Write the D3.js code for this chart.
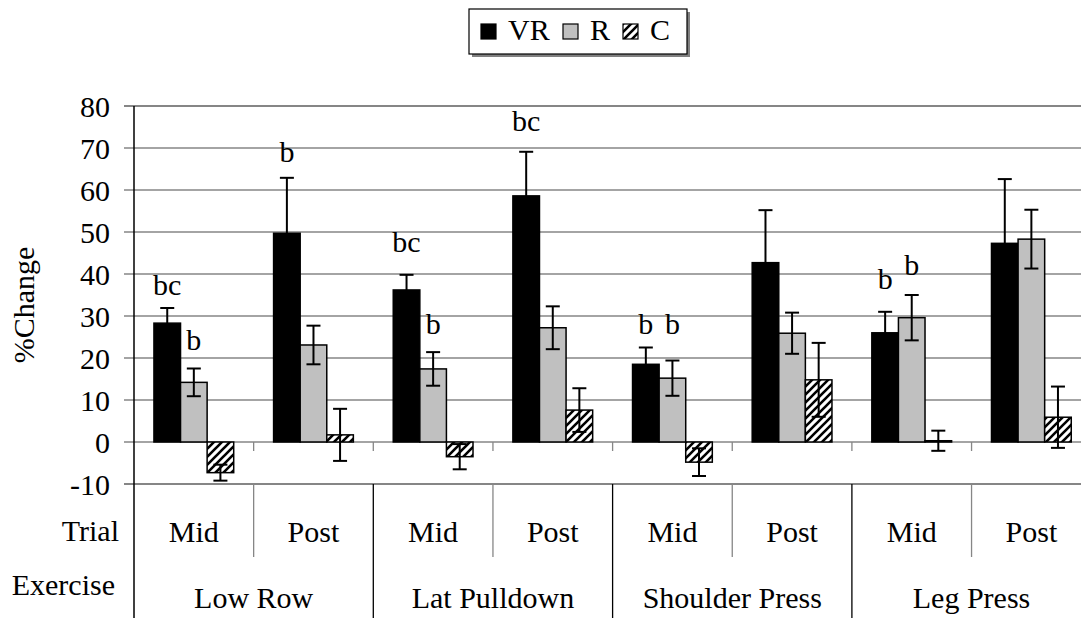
<!DOCTYPE html>
<html>
<head>
<meta charset="utf-8">
<script src="https://cdn.jsdelivr.net/npm/d3@7"></script>
<style>
  body { margin: 0; background: #fff; }
  svg text { font-family: "Liberation Serif", "DejaVu Serif", serif; fill: #000; }
</style>
</head>
<body>
<div class="svg"></div>
<script>
// chart data
var exercises = ['Low Row', 'Lat Pulldown', 'Shoulder Press', 'Leg Press'];
var trials = ['Mid', 'Post'];
var seriesNames = ['VR', 'R', 'C'];

// one value per exercise/trial pair, in the order Low Row Mid, Low Row Post, ...
var vrMean = [28.3, 49.7, 36.2, 58.6, 18.5, 42.7, 26.0, 47.3];
var vrErr  = [3.6, 13.2, 3.6, 10.5, 4.0, 12.5, 5.0, 15.3];
var rMean  = [14.2, 23.1, 17.4, 27.2, 15.2, 25.9, 29.6, 48.3];
var rErr   = [3.3, 4.6, 4.0, 5.1, 4.2, 4.9, 5.4, 7.0];
var cMean  = [-7.3, 1.7, -3.5, 7.6, -4.8, 14.8, 0.3, 5.9];
var cErr   = [1.9, 6.2, 3.0, 5.2, 3.3, 8.8, 2.4, 7.3];

var yTicks = [-10, 0, 10, 20, 30, 40, 50, 60, 70, 80];

// significance letters: category index, series, text, height (in %Change)
var sigCat    = [0, 0, 1, 2, 2, 3, 4, 4, 6, 6];
var sigSeries = ['VR', 'R', 'VR', 'VR', 'R', 'VR', 'VR', 'R', 'VR', 'R'];
var sigText   = ['bc', 'b', 'b', 'bc', 'b', 'bc', 'b', 'b', 'b', 'b'];
var sigAt     = [35.0, 21.9, 66.7, 45.2, 25.7, 74.0, 25.7, 25.7, 36.4, 39.8];

var W = 1081, H = 618;
var left = 134, top0 = 106, zeroY = 442;

var svg = d3.select('body .svg').append('svg')
  .attr('width', W).attr('height', H)
  .attr('font-family', 'Liberation Serif, serif');

var defs = svg.append('defs');
var pat = defs.append('pattern')
  .attr('id', 'hatch')
  .attr('patternUnits', 'userSpaceOnUse')
  .attr('width', 8).attr('height', 8);
pat.append('rect').attr('width', 8).attr('height', 8).attr('fill', '#fff');
pat.append('path')
  .attr('d', 'M-2,2 l4,-4 M0,8 l8,-8 M6,10 l4,-4')
  .attr('stroke', '#000').attr('stroke-width', 2.6);

// categories: exercise x trial
var cats = [];
exercises.forEach(function(e) {
  trials.forEach(function(t) { cats.push(e + '|' + t); });
});

var groupStep = 119.65;
var x = d3.scaleBand().domain(cats)
  .range([left, left + groupStep * cats.length])
  .paddingInner(0).paddingOuter(0);
var xs = d3.scaleBand().domain(seriesNames)
  .range([0, x.bandwidth()])
  .paddingInner(0).paddingOuter(0.75);

var y = d3.scaleLinear().domain([-10, 80]).range([zeroY + 42, top0]);

// gridlines + y ticks
var grid = svg.append('g');
grid.selectAll('line').data(yTicks).enter().append('line')
  .attr('x1', left - 10).attr('x2', W)
  .attr('y1', function(d) { return y(d); })
  .attr('y2', function(d) { return y(d); })
  .attr('stroke', '#868686')
  .attr('stroke-width', function(d) { return d === 80 || d === -10 ? 2 : 1.3; });

svg.append('g').selectAll('text').data(yTicks).enter().append('text')
  .attr('x', 110)
  .attr('y', function(d) { return y(d) + 11; })
  .attr('text-anchor', 'end')
  .style('font-size', '30px')
  .text(function(d) { return d; });

// small ticks on the zero line at category boundaries
svg.append('g').selectAll('line').data(cats.slice(1)).enter().append('line')
  .attr('x1', function(d) { return x(d); })
  .attr('x2', function(d) { return x(d); })
  .attr('y1', y(0)).attr('y2', y(0) + 9)
  .attr('stroke', '#868686').attr('stroke-width', 1.3);

// bars
var seriesData = [
  {name: 'VR', mean: vrMean, err: vrErr, fill: '#000'},
  {name: 'R', mean: rMean, err: rErr, fill: '#c0c0c0'},
  {name: 'C', mean: cMean, err: cErr, fill: 'url(#hatch)'}
];

var bars = [];
seriesData.forEach(function(s) {
  s.mean.forEach(function(v, i) {
    bars.push({cat: cats[i], s: s.name, v: v, e: s.err[i], fill: s.fill});
  });
});

svg.append('g').selectAll('rect').data(bars).enter().append('rect')
  .attr('x', function(d) { return x(d.cat) + xs(d.s); })
  .attr('width', xs.bandwidth())
  .attr('y', function(d) { return y(Math.max(0, d.v)); })
  .attr('height', function(d) { return Math.abs(y(d.v) - y(0)); })
  .attr('fill', function(d) { return d.fill; })
  .attr('stroke', '#000').attr('stroke-width', 1.5);

// error bars
var eb = svg.append('g').attr('stroke', '#000').attr('stroke-width', 2);
var ebs = eb.selectAll('g').data(bars).enter().append('g');
function cx(d) { return x(d.cat) + xs(d.s) + xs.bandwidth() / 2; }
ebs.append('line')
  .attr('x1', cx).attr('x2', cx)
  .attr('y1', function(d) { return y(d.v + d.e); })
  .attr('y2', function(d) { return y(d.v - d.e); });
ebs.append('line')
  .attr('x1', function(d) { return cx(d) - 7; })
  .attr('x2', function(d) { return cx(d) + 7; })
  .attr('y1', function(d) { return y(d.v + d.e); })
  .attr('y2', function(d) { return y(d.v + d.e); });
ebs.append('line')
  .attr('x1', function(d) { return cx(d) - 7; })
  .attr('x2', function(d) { return cx(d) + 7; })
  .attr('y1', function(d) { return y(d.v - d.e); })
  .attr('y2', function(d) { return y(d.v - d.e); });

// significance letters
svg.append('g').selectAll('text').data(sigText).enter().append('text')
  .attr('x', function(d, i) { return x(cats[sigCat[i]]) + xs(sigSeries[i]) + xs.bandwidth() / 2; })
  .attr('y', function(d, i) { return y(sigAt[i]); })
  .attr('text-anchor', 'middle')
  .style('font-size', '30px')
  .text(function(d) { return d; });

// y axis line, running down through the category table
svg.append('line')
  .attr('x1', left).attr('x2', left)
  .attr('y1', top0).attr('y2', H)
  .attr('stroke', '#000').attr('stroke-width', 1.5);

// category table below the plot
var tableTop = y(-10);
svg.append('g').selectAll('line').data(exercises).enter().append('line')
  .attr('x1', function(d) { return x(d + '|Post'); })
  .attr('x2', function(d) { return x(d + '|Post'); })
  .attr('y1', tableTop).attr('y2', 557)
  .attr('stroke', '#868686').attr('stroke-width', 1.3);

svg.append('g').selectAll('line').data(exercises.slice(1)).enter().append('line')
  .attr('x1', function(d) { return x(d + '|Mid'); })
  .attr('x2', function(d) { return x(d + '|Mid'); })
  .attr('y1', tableTop).attr('y2', H)
  .attr('stroke', '#000').attr('stroke-width', 1.3);

svg.append('g').selectAll('text').data(cats).enter().append('text')
  .attr('x', function(d) { return x(d) + x.bandwidth() / 2; })
  .attr('y', 542)
  .attr('text-anchor', 'middle')
  .style('font-size', '30px')
  .text(function(d) { return d.split('|')[1]; });

svg.append('g').selectAll('text').data(exercises).enter().append('text')
  .attr('x', function(d) { return x(d + '|Post'); })
  .attr('y', 608)
  .attr('text-anchor', 'middle')
  .style('font-size', '30px')
  .text(function(d) { return d; });

svg.append('text').attr('x', 119).attr('y', 541)
  .attr('text-anchor', 'end').style('font-size', '30px').text('Trial');
svg.append('text').attr('x', 115).attr('y', 595)
  .attr('text-anchor', 'end').style('font-size', '30px').text('Exercise');

// y title
svg.append('text')
  .attr('transform', 'translate(34,305) rotate(-90)')
  .attr('text-anchor', 'middle')
  .style('font-size', '30px')
  .text('%Change');

// legend
var lg = svg.append('g');
lg.append('rect').attr('x', 472).attr('y', 12).attr('width', 218).attr('height', 45)
  .attr('fill', '#808080');
lg.append('rect').attr('x', 469).attr('y', 9).attr('width', 218).attr('height', 45)
  .attr('fill', '#fff').attr('stroke', '#000').attr('stroke-width', 1.2);
var legX = [481, 563, 623];
var legItems = lg.selectAll('g.item').data(seriesData).enter().append('g')
  .attr('class', 'item')
  .attr('transform', function(d, i) { return 'translate(' + legX[i] + ',24)'; });
legItems.append('rect').attr('width', 15).attr('height', 15)
  .attr('fill', function(d) { return d.fill; })
  .attr('stroke', '#000').attr('stroke-width', 1.2);
legItems.append('text').attr('x', 27).attr('y', 16)
  .style('font-size', '30px')
  .text(function(d) { return d.name; });
</script>
</body>
</html>
